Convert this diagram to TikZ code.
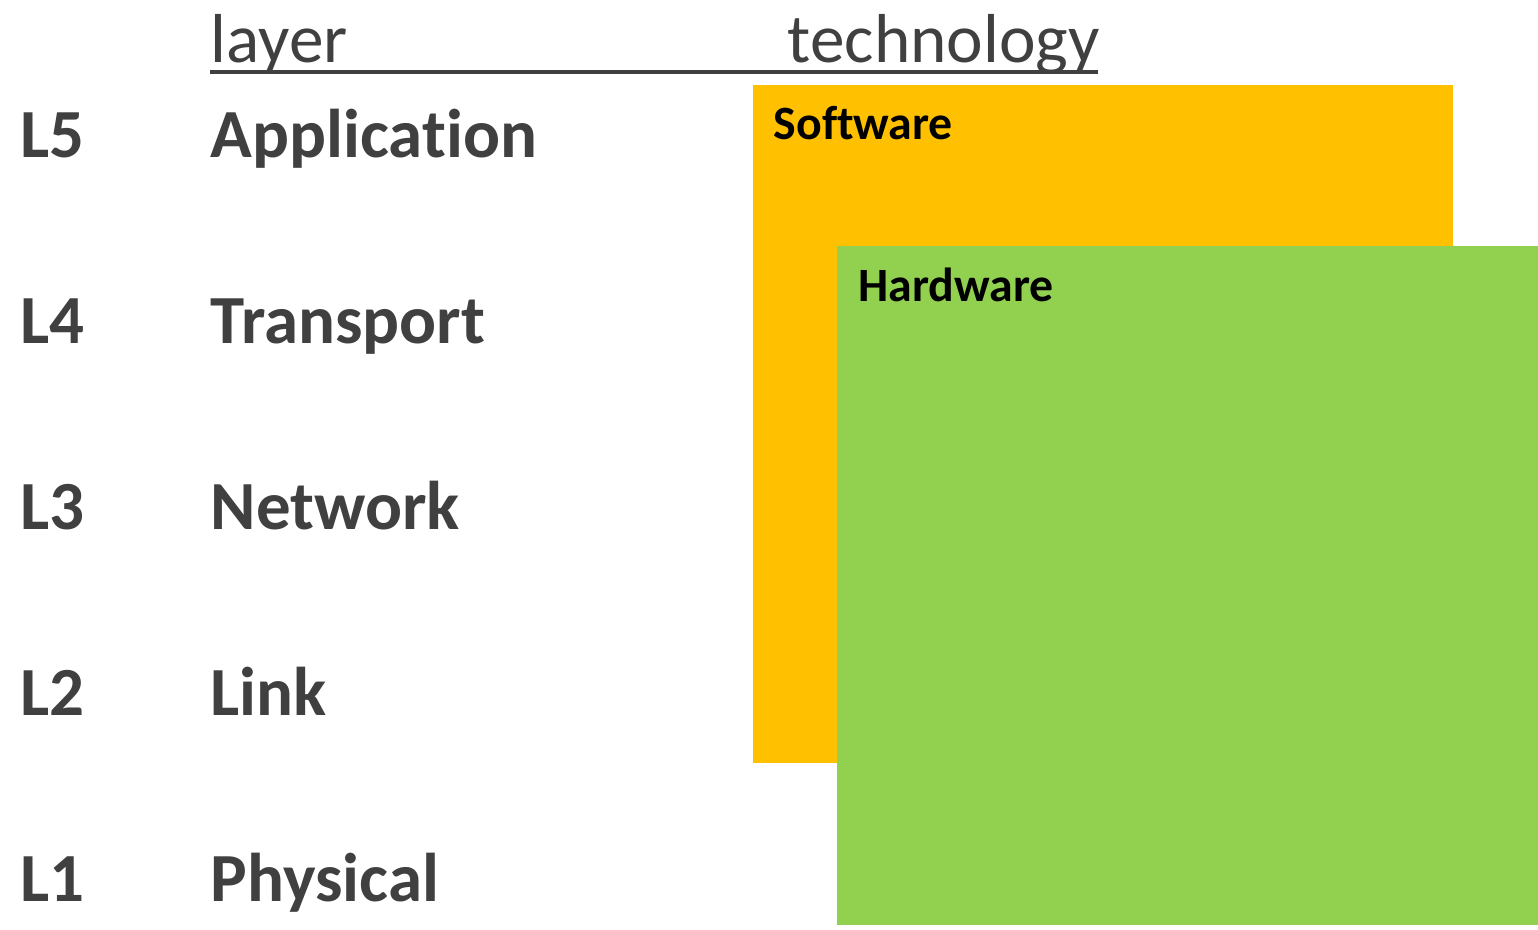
\documentclass[tikz,border=0pt]{standalone}
\usepackage{fontspec}
\setmainfont{Carlito}[Ligatures=NoCommon]
\definecolor{txt}{HTML}{404040}
\definecolor{sw}{HTML}{FFC000}
\definecolor{hw}{HTML}{92D050}
\begin{document}
\begin{tikzpicture}[x=0.01cm,y=-0.01cm]
    \tikzset{
    lyr/.style={anchor=base west,inner sep=0,text=txt,font=\fontsize{19.6}{24}\selectfont\bfseries},
    head/.style={anchor=base west,inner sep=0,text=txt,font=\fontsize{19.7}{24}\selectfont},
    tech/.style={anchor=base west,inner sep=0,text=black,font=\fontsize{13.6}{16}\selectfont\bfseries},
    }
    \useasboundingbox (0,0) rectangle (1538,930);
    \fill[sw] (753,85) rectangle (1453,763);
    \fill[hw] (837,246) rectangle (1538,925);

    \node[head] (hlayer) at (210,62) {layer};
    \node[head] (htech) at (787,62) {technology};
    \draw[txt,line width=0.9pt] (210,72) -- (1098,72);

    \node[tech] (soft) at (773,139) {Software};
    \node[tech] (hard) at (858,301) {Hardware};

    \foreach \n/\name [count=\i] in {5/Application,4/Transport,3/Network,2/Link,1/Physical} {
        \node[lyr] (L\n) at (20,{157+186*(\i-1)}) {L\n};
        \node[lyr] (name\n) at (210,{157+186*(\i-1)}) {\name};
    }
\end{tikzpicture}
\end{document}
